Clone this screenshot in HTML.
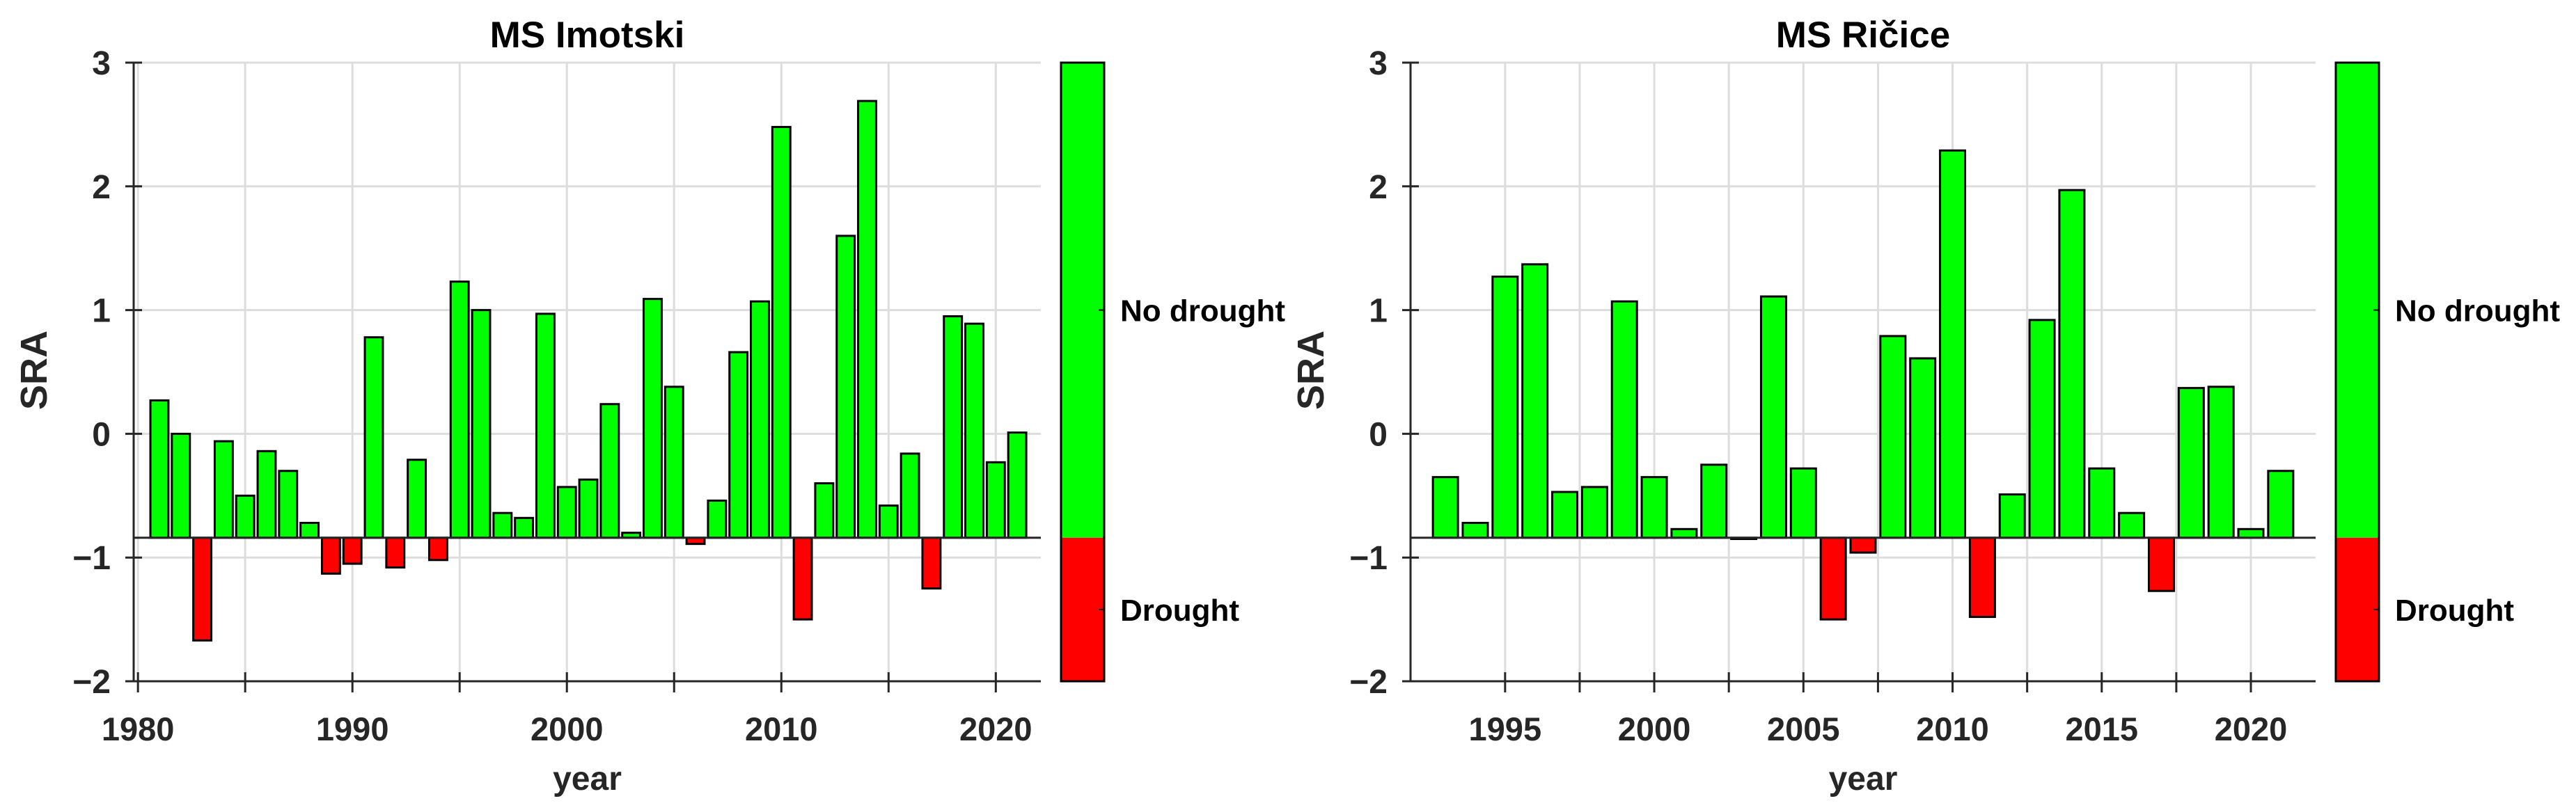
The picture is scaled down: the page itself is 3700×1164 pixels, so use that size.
<!DOCTYPE html>
<html><head><meta charset="utf-8"><style>
html,body{margin:0;padding:0;background:#fff;width:3700px;height:1164px;overflow:hidden}
svg{display:block}
text{font-family:"Liberation Sans",Arial,sans-serif}
</style></head><body>
<svg id="fig" width="3700" height="1164" viewBox="0 0 3700 1164" xmlns="http://www.w3.org/2000/svg"></svg>
<script>
const imotskiYears = [1981,1982,1983,1984,1985,1986,1987,1988,1989,1990,1991,1992,1993,1994,1995,1996,1997,1998,1999,2000,2001,2002,2003,2004,2005,2006,2007,2008,2009,2010,2011,2012,2013,2014,2015,2016,2017,2018,2019,2020,2021];
const imotskiSRA = [0.27,0.0,-1.67,-0.06,-0.50,-0.14,-0.30,-0.72,-1.13,-1.05,0.78,-1.08,-0.21,-1.02,1.23,1.00,-0.64,-0.68,0.97,-0.43,-0.37,0.24,-0.80,1.09,0.38,-0.89,-0.54,0.66,1.07,2.48,-1.50,-0.40,1.60,2.69,-0.58,-0.16,-1.25,0.95,0.89,-0.23,0.01];
const ricYears = [1993,1994,1995,1996,1997,1998,1999,2000,2001,2002,2003,2004,2005,2006,2007,2008,2009,2010,2011,2012,2013,2014,2015,2016,2017,2018,2019,2020,2021];
const ricSRA = [-0.35,-0.72,1.27,1.37,-0.47,-0.43,1.07,-0.35,-0.77,-0.25,-0.85,1.11,-0.28,-1.50,-0.96,0.79,0.61,2.29,-1.48,-0.49,0.92,1.97,-0.28,-0.64,-1.27,0.37,0.38,-0.77,-0.30];
const yTicks = [3,2,1,0,-1,-2];
const yTickLabels = ["3","2","1","0","\u22121","\u22122"];
const imotskiXLabels = [1980,1990,2000,2010,2020];
const imotskiXTicks = [1980,1985,1990,1995,2000,2005,2010,2015,2020];
const ricXLabels = [1995,2000,2005,2010,2015,2020];
const ricXTicks = [1995,1997.5,2000,2002.5,2005,2007.5,2010,2012.5,2015,2017.5,2020];
const baseValue = -0.84;
const cbLabels = ["No drought","Drought"];
const cbLabelValues = [1.0,-1.42];

const NS="http://www.w3.org/2000/svg";
const svg=document.getElementById('fig');
function mk(tag,attrs,parent){const e=document.createElementNS(NS,tag);for(const k in attrs)e.setAttribute(k,attrs[k]);(parent||svg).appendChild(e);return e;}

function panel(cfg){
  const g=mk('g',{});
  
  
  const top=90,bot=979;
  const y=v=>top+(3-v)*(bot-top)/5;
  const x=v=>cfg.x0+(v-cfg.xmin)*(cfg.x1-cfg.x0)/(cfg.xmax-cfg.xmin);
  // grid
  yTicks.forEach(t=>{const l=mk('line',{x1:cfg.x0,x2:cfg.x1,y1:y(t),y2:y(t),stroke:'#dddddd','stroke-width':3},g);
    });
  cfg.xticks.forEach(t=>{const l=mk('line',{x1:x(t),x2:x(t),y1:top,y2:bot,stroke:'#dddddd','stroke-width':3},g);
    });
  // bars
  const bw=0.84*(cfg.x1-cfg.x0)/(cfg.xmax-cfg.xmin);
  cfg.years.forEach((yr,i)=>{const v=cfg.vals[i];const yt=Math.min(y(v),y(baseValue)),h=Math.abs(y(v)-y(baseValue));
    const r=mk('rect',{x:x(yr)-bw/2,y:yt,width:bw,height:Math.max(h,1),fill:v>=baseValue?'#00ff00':'#ff0000',stroke:'#000','stroke-width':3},g);
    });
  // baseline
  const bl=mk('line',{x1:cfg.x0,x2:cfg.x1,y1:y(baseValue),y2:y(baseValue),stroke:'#262626','stroke-width':3},g);
  
  // axes
  const ya=mk('line',{x1:cfg.x0,x2:cfg.x0,y1:top,y2:bot,stroke:'#262626','stroke-width':3},g);
  
  const xa=mk('line',{x1:cfg.x0-12,x2:cfg.x1,y1:bot,y2:bot,stroke:'#262626','stroke-width':3},g);
  
  yTicks.forEach((t,i)=>{mk('line',{x1:cfg.x0-12,x2:cfg.x0+12,y1:y(t),y2:y(t),stroke:'#262626','stroke-width':3},g);
    const tx=mk('text',{x:cfg.x0-33,y:y(t)+17,'text-anchor':'end','font-size':48,'font-weight':'bold',fill:'#262626'},g);
    tx.textContent=yTickLabels[i];});
  cfg.xticks.forEach(t=>{mk('line',{x1:x(t),x2:x(t),y1:bot-13,y2:bot+16,stroke:'#262626','stroke-width':3},g);});
  cfg.xlabels.forEach(t=>{const tx=mk('text',{x:x(t),y:1064,'text-anchor':'middle','font-size':47,'font-weight':'bold',fill:'#262626'},g);
    tx.textContent=String(t);});
  // titles
  const ti=mk('text',{x:(cfg.x0+cfg.x1)/2,y:68,'text-anchor':'middle','font-size':53,'font-weight':'bold',fill:'#000'},g);
  ti.textContent=cfg.title;
  const xl=mk('text',{x:(cfg.x0+cfg.x1)/2,y:1135,'text-anchor':'middle','font-size':48,'font-weight':'bold',fill:'#262626'},g);
  xl.textContent='year';
  const yl=mk('text',{x:0,y:0,'text-anchor':'middle','font-size':54,'font-weight':'bold',fill:'#262626',transform:`translate(${cfg.x0-125},532) rotate(-90)`},g);
  yl.textContent='SRA';
  // colorbar
  const cx=cfg.x1+29,cw=62;
  const cg=mk('rect',{x:cx,y:top,width:cw,height:y(baseValue)-top,fill:'#00ff00'},g);
  
  const cr=mk('rect',{x:cx,y:y(baseValue),width:cw,height:bot-y(baseValue),fill:'#ff0000'},g);
  
  mk('rect',{x:cx,y:top,width:cw,height:bot-top,fill:'none',stroke:'#000','stroke-width':3},g);
  cbLabels.forEach((lab,i)=>{const yy=y(cbLabelValues[i]);
    mk('line',{x1:cx+cw-8,x2:cx+cw,y1:yy,y2:yy,stroke:'#000','stroke-width':2},g);
    const tx=mk('text',{x:cx+cw+23,y:yy+16,'font-size':44,'font-weight':'bold',fill:'#000'},g);
    tx.textContent=lab;});
}
panel({name:'chart-imotski',title:'MS Imotski',x0:192,x1:1495,xmin:1979.8,xmax:2022.1,years:imotskiYears,vals:imotskiSRA,xticks:imotskiXTicks,xlabels:imotskiXLabels});
panel({name:'chart-ricice',title:'MS Ri\u010dice',x0:2026,x1:3326,xmin:1991.83,xmax:2022.17,years:ricYears,vals:ricSRA,xticks:ricXTicks,xlabels:ricXLabels});
</script>
</body></html>
